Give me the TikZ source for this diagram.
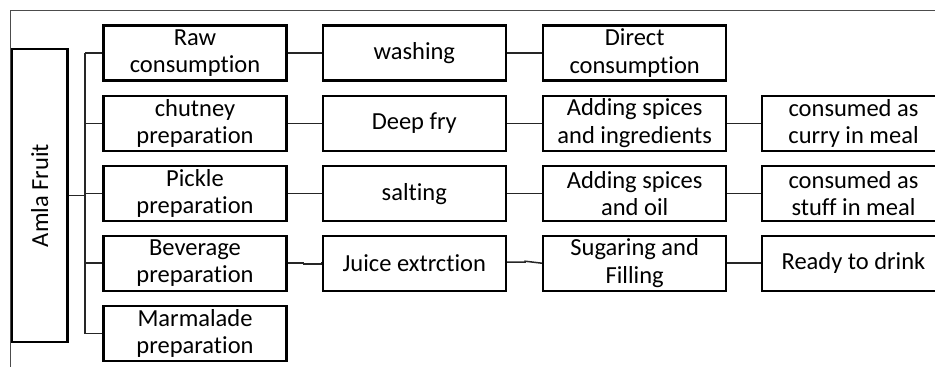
\documentclass[tikz,border=0pt]{standalone}
\usepackage{fontspec}
\setmainfont[RawFeature={-liga;-dlig;-clig}]{Carlito}
\begin{document}
\begin{tikzpicture}[x=1pt,y=-1pt,
  box/.style={draw=black,line width=2.4pt,minimum width=183pt,minimum height=55pt,inner sep=0pt,align=center,font=\fontsize{24.5}{27.5}\selectfont},
  conn/.style={draw=black!85,line width=1.5pt},
  frameline/.style={draw=black!70,line width=1.3pt}]
\useasboundingbox (0,0) rectangle (935,367);
\clip (0,0) rectangle (935,367);
% frame
\coordinate (ftr) at (935,10.7);
\coordinate (ftl) at (10.7,10.7);
\coordinate (fbl) at (10.7,367);
\draw[frameline] (ftr) -- (ftl) -- (fbl);
% Amla box
\node[draw=black,line width=2.4pt,minimum width=55.5pt,minimum height=293pt,inner sep=0pt] (amla) at (39.8,195.5) {};
\node[rotate=90,font=\fontsize{24.5}{27.5}\selectfont] (amlat) at (amla.center) {Amla Fruit};
% column 1
\node[box] (r1) at (195,53) {Raw\\consumption};
\node[box] (c1) at (195,123.3) {chutney\\preparation};
\node[box] (p1) at (195,193.7) {Pickle\\preparation};
\node[box] (b1) at (195,263.2) {Beverage\\preparation};
\node[box] (m1) at (195,333.7) {Marmalade\\preparation};
% column 2
\node[box] (r2) at (414.3,53) {washing};
\node[box] (c2) at (414.3,123.3) {Deep fry};
\node[box] (p2) at (414.3,193.7) {salting};
\node[box] (b2) at (414.3,263.2) {Juice extrction};
% column 3
\node[box] (r3) at (634.7,53) {Direct\\consumption};
\node[box] (c3) at (634.7,123.3) {Adding spices\\and ingredients};
\node[box] (p3) at (634.7,193.7) {Adding spices\\and oil};
\node[box] (b3) at (634.7,263.2) {Sugaring and\\Filling};
% column 4
\node[box] (c4) at (853.5,123.3) {consumed as\\curry in meal};
\node[box] (p4) at (853.5,193.7) {consumed as\\stuff in meal};
\node[box] (b4) at (853.5,263.2) {Ready to drink};
% trunk
\coordinate (ttop) at (85,53);
\coordinate (tbot) at (85,333.7);
\coordinate (tmid) at (85,195.5);
\draw[conn] (ttop) -- (tbot);
\draw[conn] (amla.east) -- (tmid);
\draw[conn] (ttop) -- (r1.west);
\draw[conn] (85,123.3) -- (c1.west);
\draw[conn] (85,193.7) -- (p1.west);
\draw[conn] (85,263.2) -- (b1.west);
\draw[conn] (tbot) -- (m1.west);
% rows
\draw[conn] (r1) -- (r2);
\draw[conn] (r2) -- (r3);
\draw[conn] (c1) -- (c2);
\draw[conn] (c2) -- (c3);
\draw[conn] (c3) -- (c4);
\draw[conn] (p1) -- (p2);
\draw[conn] (p2) -- (p3);
\draw[conn] (p3) -- (p4);
\draw[conn] (b1.east) -- ++(16,0) -- ++(0,1) -| ([yshift=1pt]b2.west);
\draw[conn] ([yshift=1pt]b2.east) -- ++(18,0) -- ++(0,-1) -- (b3.west);
\draw[conn] (b3) -- (b4);
\end{tikzpicture}
\end{document}
